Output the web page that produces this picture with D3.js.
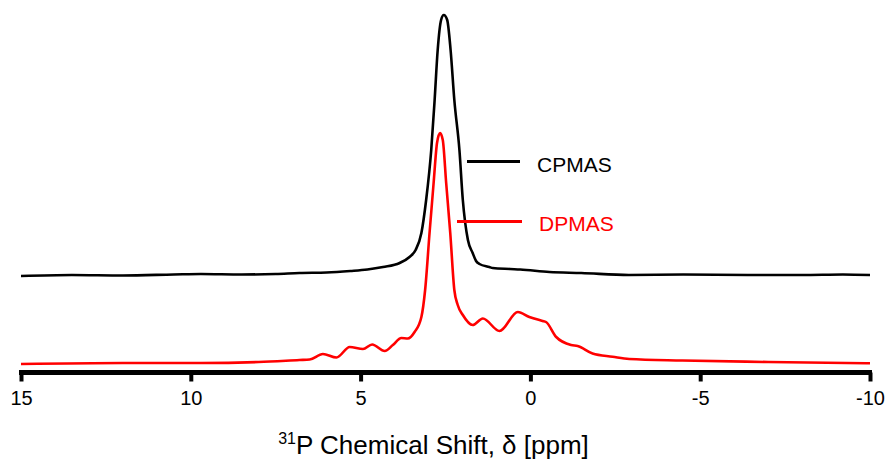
<!DOCTYPE html>
<html>
<head>
<meta charset="utf-8">
<script src="https://cdn.jsdelivr.net/npm/d3@7"></script>
<style>
  html, body { margin: 0; padding: 0; background: #fff; }
  svg { display: block; font-family: "Liberation Sans", Arial, sans-serif; }
</style>
</head>
<body>
<svg id="chart" width="885" height="462"></svg>
<script>
// chemical shift ticks
const tickValues = [15, 10, 5, 0, -5, -10];

// CPMAS trace (ppm, relative intensity)
const cpmasPpm = [15, 13.5, 12, 10.5, 9.7, 8.5, 7.5, 6.8, 6.0, 5.3, 4.8, 4.34, 3.85, 3.56, 3.38, 3.21, 3.07, 2.92, 2.82, 2.73, 2.63, 2.55, 2.45, 2.35, 2.24, 2.09, 1.99, 1.84, 1.70, 1.60, 1.50, 1.21, 1.11, 0.6, 0.3, -0.56, -1.5, -2.9, -4.5, -6.4, -8.0, -9.2, -10];
const cpmasInt = [89, 90, 89.5, 90.5, 91, 90.5, 91, 92, 92.5, 94, 95.5, 98, 102, 108, 115, 132, 165, 215, 265, 315, 345, 350, 345, 315, 265, 215, 165, 125, 112, 104, 101, 98, 97, 96, 95.5, 93, 92, 90, 90.5, 90, 90, 90.5, 90];

// DPMAS trace (ppm, relative intensity)
const dpmasPpm = [15, 12, 9.7, 8.0, 6.8, 6.5, 6.11, 5.71, 5.32, 4.93, 4.66, 4.29, 4.05, 3.80, 3.61, 3.41, 3.21, 3.10, 2.97, 2.85, 2.75, 2.66, 2.58, 2.48, 2.36, 2.24, 2.14, 1.99, 1.70, 1.40, 0.91, 0.37, 0.03, -0.36, -0.46, -0.76, -1.20, -1.39, -1.83, -2.42, -2.91, -4.47, -7.0, -10];
const dpmasInt = [1, 2, 2, 3, 5, 5.5, 11, 7.5, 18, 16, 20.5, 14, 20, 27, 26.5, 33, 48, 75, 132, 182, 222, 232, 225, 182, 132, 75, 60, 50, 40, 46.5, 34, 53, 48, 44, 43, 28, 20, 19, 11.5, 8.3, 6, 4.5, 3, 1.7];

const series = [
  { name: "CPMAS", color: "#000000", ppm: cpmasPpm, val: cpmasInt },
  { name: "DPMAS", color: "#ff0000", ppm: dpmasPpm, val: dpmasInt }
];

const svg = d3.select("#chart");

const x = d3.scaleLinear().domain([15, -10]).range([21, 870]);
const y = d3.scaleLinear().domain([0, 350]).range([365, 15]);

const line = d3.line()
  .x(d => x(d[0]))
  .y(d => y(d[1]))
  .curve(d3.curveMonotoneX);

series.forEach(s => {
  svg.append("path")
    .datum(s.ppm.map((p, i) => [p, s.val[i]]))
    .attr("fill", "none")
    .attr("stroke", s.color)
    .attr("stroke-width", 2.6)
    .attr("stroke-linejoin", "round")
    .attr("d", line);
});

// x axis (plain hyphen for negatives, like the original)
const axis = svg.append("g")
  .attr("transform", "translate(0,372.5)")
  .call(d3.axisBottom(x).tickValues(tickValues).tickSize(9).tickSizeOuter(0).tickFormat(d => String(d)));
axis.select(".domain").attr("stroke", "#000").attr("stroke-width", 5)
  .attr("d", `M${x(15) - 2},0H${x(-10) + 2}`);
axis.selectAll(".tick line").attr("stroke", "#000").attr("stroke-width", 4);
axis.selectAll(".tick text")
  .attr("fill", "#000")
  .attr("font-size", 20)
  .attr("font-family", "'Liberation Sans', Arial, sans-serif")
  .attr("dy", null)
  .attr("y", 32.5);

// axis title
const title = svg.append("text")
  .attr("x", 433.5)
  .attr("y", 454)
  .attr("text-anchor", "middle")
  .attr("font-size", 26)
  .attr("fill", "#000");
title.append("tspan").attr("font-size", 16).attr("dy", -10).text("31");
title.append("tspan").attr("dy", 10).text("P Chemical Shift, δ [ppm]");

// legend
const legend = [
  { s: series[0], x1: 467, x2: 520, ly: 161.5, tx: 537, ty: 172 },
  { s: series[1], x1: 457, x2: 522, ly: 221.5, tx: 539, ty: 231 }
];
legend.forEach(l => {
  svg.append("line")
    .attr("x1", l.x1).attr("x2", l.x2)
    .attr("y1", l.ly).attr("y2", l.ly)
    .attr("stroke", l.s.color)
    .attr("stroke-width", 3);
  svg.append("text")
    .attr("x", l.tx).attr("y", l.ty)
    .attr("font-size", 21)
    .attr("fill", l.s.color)
    .text(l.s.name);
});
</script>
</body>
</html>
